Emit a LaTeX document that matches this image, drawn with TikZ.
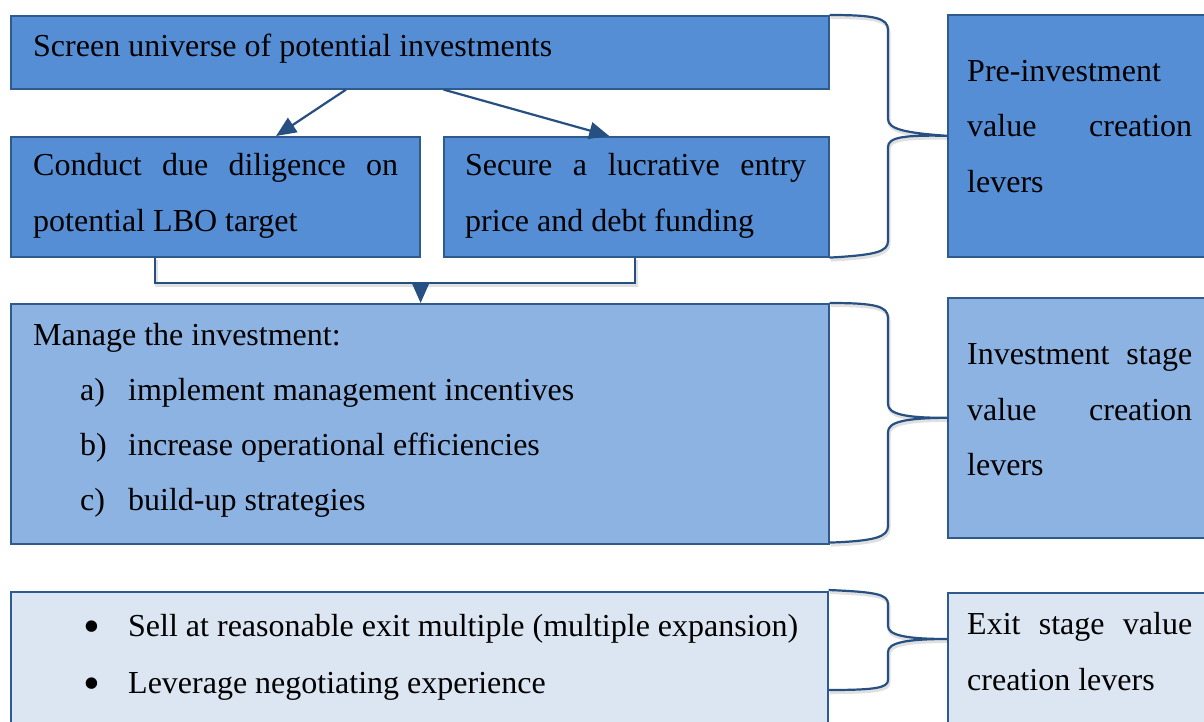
\documentclass[tikz,border=0pt]{standalone}
\usepackage{fontspec}
\setmainfont{Liberation Serif}
\usetikzlibrary{arrows.meta,calc}
\definecolor{darkfill}{HTML}{558ED5}
\definecolor{midfill}{HTML}{8DB3E2}
\definecolor{lightfill}{HTML}{DCE6F2}
\definecolor{edge}{HTML}{2F5A8E}
\definecolor{wirecol}{HTML}{264F82}

\newcommand\bigdot{\raisebox{-6.5pt}{\fontsize{48}{48}\selectfont\textbullet}}

\begin{document}
\begin{tikzpicture}[x=1pt,y=-1pt,
  box/.style={draw=edge, line width=1.6pt, rectangle, inner sep=0pt, anchor=north west},
  txt/.style={anchor=base west, inner sep=0pt, font=\fontsize{32}{55}\selectfont},
  wire/.style={draw=wirecol, line width=2.2pt},
  tip/.style={-{Triangle[length=20pt,width=17pt]}},
  shadowed/.style={preaction={draw=black, opacity=0.12, line width=3pt,
      transform canvas={shift={(1pt,-2.5pt)}}}}
]
\clip (0,0) rectangle (1204,722);
\fill[white] (0,0) rectangle (1204,722);

% stage boxes
\node[box, fill=darkfill, minimum width=818pt, minimum height=73pt] (screen) at (10,15) {};
\node[box, fill=darkfill, minimum width=409pt, minimum height=120pt] (dd) at (10,136) {};
\node[box, fill=darkfill, minimum width=385pt, minimum height=120pt] (entry) at (443,136) {};
\node[box, fill=darkfill, minimum width=280pt, minimum height=242pt] (pre) at (947,14) {};
\node[box, fill=midfill, minimum width=818pt, minimum height=240pt] (manage) at (10,303) {};
\node[box, fill=midfill, minimum width=280pt, minimum height=240pt] (invlev) at (947,297) {};
\node[box, fill=lightfill, minimum width=817pt, minimum height=150pt] (exit) at (10,591) {};
\node[box, fill=lightfill, minimum width=280pt, minimum height=150pt] (exitlev) at (947,592) {};

% braces grouping each stage
\draw[wire, shadowed] (screen.north east) .. controls (875,15) and (888,18) .. (888,30)
  -- (888,119) .. controls (888,129) and (905,133) .. (pre.west)
  .. controls (905,135) and (888,137) .. (888,147)
  -- (888,241) .. controls (888,252) and (875,255) .. (entry.south east);

\coordinate (mb) at ($(manage.south east)+(0,-2)$);
\draw[wire, shadowed] (manage.north east) .. controls (875,303) and (888,306) .. (888,318)
  -- (888,404) .. controls (888,414) and (905,418) .. (invlev.west)
  .. controls (905,418) and (888,422) .. (888,432)
  -- (888,526) .. controls (888,537) and (875,541) .. (mb);

\coordinate (et) at ($(exit.north east)+(0,-1)$);
\coordinate (eb) at ($(exit.north east)+(0,99)$);
\coordinate (etip) at ($(exitlev.north west)+(0,47)$);
\draw[wire, shadowed] (et) .. controls (875,592) and (888,594) .. (888,604)
  -- (888,626) .. controls (888,635) and (905,639) .. (etip)
  .. controls (905,639) and (888,643) .. (888,652)
  -- (888,680) .. controls (888,688) and (875,690) .. (eb);

% flow arrows
\draw[wire, tip] ($(screen.south west)!0.41!(screen.south east)$) -- ($(dd.north west)!0.648!(dd.north east)$);
\draw[wire, tip] ($(screen.south west)!0.529!(screen.south east)$) -- ($(entry.north west)!0.43!(entry.north east)$);

\coordinate (join) at ($(dd.south east)+(0,25)$);
\draw[wire, shadowed] ($(dd.south west)+(145,0)$) -- ++(0,25) -| ($(entry.south west)+(192,0)$);
\draw[wire, tip] (join) -- (join |- manage.north);

% texts
\node[txt] (t1) at (33,57) {Screen universe of potential investments};
\node[txt] (t2) at (33,176) {\makebox[365pt][s]{Conduct due diligence on}};
\node[txt] (t3) at (33,231) {potential LBO target};
\node[txt] (t4) at (465,176) {\makebox[341pt][s]{Secure a lucrative entry}};
\node[txt] (t5) at (465,231) {price and debt funding};
\node[txt] (t6) at (967,82) {Pre-investment};
\node[txt] (t7) at (967,137) {\makebox[225pt][s]{value creation}};
\node[txt] (t8) at (967,193) {levers};

\node[txt] (t9) at (33,345) {Manage the investment:};
\node[txt] (la) at (80,400) {a)};
\node[txt] (ta) at (128,400) {implement management incentives};
\node[txt] (lb) at (80,455) {b)};
\node[txt] (tb) at (128,455) {increase operational efficiencies};
\node[txt] (lc) at (80,510) {c)};
\node[txt] (tc) at (128,510) {build-up strategies};
\node[txt] (t10) at (967,364) {\makebox[225pt][s]{Investment stage}};
\node[txt] (t11) at (967,420) {\makebox[225pt][s]{value creation}};
\node[txt] (t12) at (967,475) {levers};

\node[txt] (b1) at (83,636) {\bigdot};
\node[txt] (s1) at (128,636) {Sell at reasonable exit multiple (multiple expansion)};
\node[txt] (b2) at (83,693) {\bigdot};
\node[txt] (s2) at (128,693) {Leverage negotiating experience};
\node[txt] (t13) at (967,634) {\makebox[225pt][s]{Exit stage value}};
\node[txt] (t14) at (967,690) {creation levers};
\end{tikzpicture}
\end{document}
